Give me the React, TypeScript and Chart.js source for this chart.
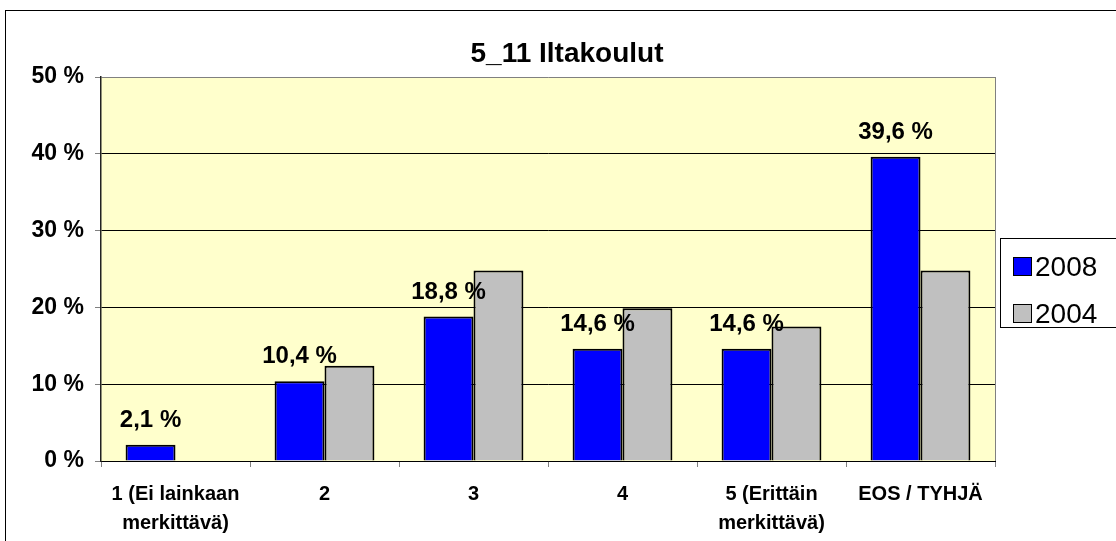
import { useEffect, useRef } from "react";
import { Chart, registerables } from "chart.js";

Chart.register(...registerables);

const FONT = '"Liberation Sans", Arial, sans-serif';

const titleText = "5_11 Iltakoulut";
const categories: (string | string[])[] = [
  ["1 (Ei lainkaan", "merkittävä)"],
  "2",
  "3",
  "4",
  ["5 (Erittäin", "merkittävä)"],
  "EOS / TYHJÄ",
];
const seriesNames = ["2008", "2004"];
const values2008 = [2.1, 10.4, 18.8, 14.6, 14.6, 39.6];
const values2004 = [0, 12.4, 24.8, 19.9, 17.5, 24.8];
const yTicks = [0, 10, 20, 30, 40, 50];
const seriesColors = ["#0000FF", "#C0C0C0"];

const fmt = (v: number) => v.toFixed(1).replace(".", ",") + " %";

const decoPlugin = {
  id: "deco",
  beforeDraw(chart: any) {
    const { ctx, chartArea } = chart;
    ctx.save();
    ctx.fillStyle = "#FFFFFF";
    ctx.fillRect(0, 0, chart.width, chart.height);
    ctx.strokeStyle = "#000000";
    ctx.lineWidth = 1;
    ctx.strokeRect(5.5, 10.5, 1300, 700);
    ctx.fillStyle = "#FFFFCC";
    ctx.fillRect(
      chartArea.left,
      chartArea.top,
      chartArea.right - chartArea.left,
      chartArea.bottom - chartArea.top
    );
    ctx.restore();
  },
  afterDatasetsDraw(chart: any) {
    const { ctx } = chart;
    const meta = chart.getDatasetMeta(0);
    ctx.save();
    ctx.font = `bold 24px ${FONT}`;
    ctx.fillStyle = "#000000";
    ctx.textAlign = "center";
    ctx.textBaseline = "alphabetic";
    meta.data.forEach((bar: any, i: number) => {
      ctx.fillText(fmt(values2008[i]), bar.x, bar.y - 18);
    });
    ctx.restore();
  },
  afterDraw(chart: any) {
    const { ctx, chartArea } = chart;
    ctx.save();
    // right border of plot area
    ctx.strokeStyle = "#808080";
    ctx.lineWidth = 1;
    ctx.beginPath();
    ctx.moveTo(Math.round(chartArea.right) + 0.5, chartArea.top);
    ctx.lineTo(Math.round(chartArea.right) + 0.5, chartArea.bottom);
    ctx.stroke();
    // title
    ctx.font = `bold 28px ${FONT}`;
    ctx.fillStyle = "#000000";
    ctx.textAlign = "center";
    ctx.textBaseline = "alphabetic";
    ctx.fillText(titleText, 567, 62);
    // legend
    ctx.fillStyle = "#FFFFFF";
    ctx.fillRect(1000.5, 238.5, 130, 89);
    ctx.strokeStyle = "#000000";
    ctx.strokeRect(1000.5, 238.5, 130, 89);
    const rows = [276, 323];
    ctx.font = `28px ${FONT}`;
    ctx.textAlign = "left";
    seriesNames.forEach((name, i) => {
      const base = rows[i];
      ctx.fillStyle = seriesColors[i];
      ctx.fillRect(1013.5, base - 18.5, 18, 18);
      ctx.strokeStyle = "#000000";
      ctx.strokeRect(1013.5, base - 18.5, 18, 18);
      ctx.fillStyle = "#000000";
      ctx.fillText(name, 1035, base);
    });
    ctx.restore();
  },
};

export default function App() {
  const ref = useRef<HTMLCanvasElement | null>(null);
  useEffect(() => {
    if (!ref.current) return;
    const chart = new Chart(ref.current, {
      type: "bar",
      data: {
        labels: categories,
        datasets: [
          {
            label: seriesNames[0],
            data: values2008,
            backgroundColor: seriesColors[0],
            borderColor: "#000000",
            borderWidth: 2,
            categoryPercentage: 0.67,
            barPercentage: 1,
          },
          {
            label: seriesNames[1],
            data: values2004,
            backgroundColor: seriesColors[1],
            borderColor: "#000000",
            borderWidth: 2,
            categoryPercentage: 0.67,
            barPercentage: 1,
          },
        ],
      },
      options: {
        responsive: false,
        animation: false,
        devicePixelRatio: 1,
        layout: { padding: { left: 0, top: 77, right: 121, bottom: 0 } },
        plugins: {
          legend: { display: false },
          title: { display: false },
          tooltip: { enabled: false },
        },
        scales: {
          x: {
            afterFit: (s: any) => {
              s.height = 80;
            },
            grid: {
              display: true,
              drawOnChartArea: false,
              drawTicks: true,
              tickLength: 6,
              color: "#808080",
              offset: true,
            },
            border: { display: true, color: "#000000", width: 1 },
            ticks: {
              color: "#000000",
              padding: 13,
              maxRotation: 0,
              autoSkip: false,
              font: { family: FONT, size: 20, weight: "bold", lineHeight: 1.45 },
            },
          },
          y: {
            min: yTicks[0],
            max: yTicks[yTicks.length - 1],
            afterFit: (s: any) => {
              s.width = 101;
            },
            afterBuildTicks: (s: any) => {
              s.ticks = yTicks.map((v) => ({ value: v }));
            },
            grid: {
              color: (c: any) => (c.tick && c.tick.value === 50 ? "#808080" : "#000000"),
              tickColor: "#808080",
              tickLength: 6,
              lineWidth: 1,
            },
            border: { display: true, color: "#222222", width: 1.5 },
            ticks: {
              color: "#000000",
              padding: 11,
              font: { family: FONT, size: 23, weight: "bold" },
              callback: (v: any) => v + " %",
            },
          },
        },
      },
      plugins: [decoPlugin],
    });
    return () => chart.destroy();
  }, []);
  return (
    <div style={{ position: "fixed", left: 0, top: 0, width: 1116, height: 541 }}>
      <canvas ref={ref} width={1116} height={541} style={{ width: 1116, height: 541 }} />
    </div>
  );
}
